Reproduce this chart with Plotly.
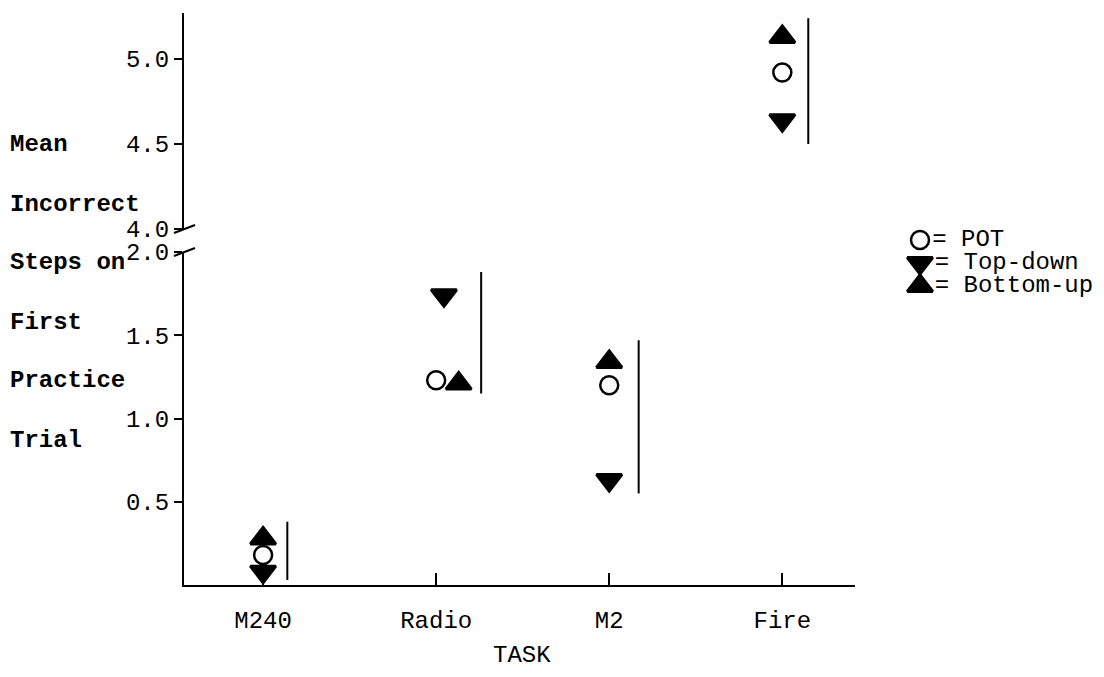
import plotly.graph_objects as go

# ---------------- data ----------------
tasks = ["M240", "Radio", "M2", "Fire"]
pot = [0.18, 1.23, 1.20, 4.92]
top_down = [0.08, 1.74, 0.63, 4.64]
bottom_up = [0.28, 1.21, 1.34, 5.13]
range_low = [0.03, 1.15, 0.55, 4.50]
range_high = [0.38, 1.88, 1.47, 5.24]
segment = ["lower", "lower", "lower", "upper"]

lower_ticks = [0.5, 1.0, 1.5, 2.0]
upper_ticks = [4.0, 4.5, 5.0]
series_names = ["POT", "Top-down", "Bottom-up"]
y_title_lines = ["Mean", "Incorrect", "Steps on", "First", "Practice", "Trial"]
x_title = "TASK"

# ---------------- style / layout constants ----------------
W, H = 1104, 677
OFF = 8                     # page body margin of the html page
AX_LEFT, AX_RIGHT = 184, 855  # page px of axis box
AX_BOTTOM, AX_TOP = 585, 13
ML = AX_LEFT - OFF
MT = AX_TOP - OFF
MB = H - (AX_BOTTOM - OFF)
PW = W - ML
PH = H - MT - MB
FONT = "Liberation Mono"
FS = 24

# horizontal jitter (category units) used in the original drawing
DX_POT = [0.0, 0.0, 0.0, 0.0]
DX_TD = [0.0, 0.045, 0.0, 0.0]
DX_BU = [0.0, 0.13, 0.0, 0.0]
DX_LINE = [0.14, 0.26, 0.17, 0.15]


def paper_x(px):
    return (px - AX_LEFT) / PW


def paper_y(py):
    return (AX_BOTTOM - py) / PH


LOWER_TOP_PX = 252
UPPER_BOT_PX = 229
lower_dom = [0, paper_y(LOWER_TOP_PX)]
upper_dom = [paper_y(UPPER_BOT_PX), 1]
upper_px_per_unit = 170.0
upper_range = [4.0, 4.0 + (UPPER_BOT_PX - AX_TOP) / upper_px_per_unit]

x_dom = [0, paper_x(AX_RIGHT)]
x_range = [-0.457, 3.42]

fig = go.Figure()

# vertical range lines
for seg, yax in (("lower", "y"), ("upper", "y2")):
    xs, ys = [], []
    for i, s in enumerate(segment):
        if s == seg:
            xs += [i + DX_LINE[i], i + DX_LINE[i], None]
            ys += [range_low[i], range_high[i], None]
    fig.add_trace(go.Scatter(x=xs, y=ys, mode="lines", yaxis=yax,
                             line=dict(color="black", width=2),
                             showlegend=False, hoverinfo="skip"))

marker_styles = {
    "Top-down": dict(symbol="triangle-down", size=22, color="black",
                     line=dict(color="black", width=3)),
    "Bottom-up": dict(symbol="triangle-up", size=22, color="black",
                      line=dict(color="black", width=3)),
    "POT": dict(symbol="circle", size=18, color="white",
                line=dict(color="black", width=2.5)),
}
series_vals = {"POT": pot, "Top-down": top_down, "Bottom-up": bottom_up}
series_dx = {"POT": DX_POT, "Top-down": DX_TD, "Bottom-up": DX_BU}

for name in ["Top-down", "Bottom-up", "POT"]:
    for seg, yax in (("lower", "y"), ("upper", "y2")):
        idx = [i for i, s in enumerate(segment) if s == seg]
        fig.add_trace(go.Scatter(
            x=[i + series_dx[name][i] for i in idx],
            y=[series_vals[name][i] for i in idx],
            mode="markers", yaxis=yax, name=name,
            marker=marker_styles[name], cliponaxis=False,
            showlegend=False))

# legend (drawn on its own hidden axes)
LEG_X0, LEG_ROW0, LEG_STEP, LEG_UNIT = 920, 240, 23, 20
for r, name in enumerate(series_names):
    fig.add_trace(go.Scatter(
        x=[0], y=[r], xaxis="x3", yaxis="y3", mode="markers+text",
        text=["= " + name], textposition="middle right",
        textfont=dict(family=FONT, size=FS, color="black"),
        marker=marker_styles[name], cliponaxis=False, showlegend=False,
        hoverinfo="skip"))

leg_left_px = LEG_X0 - LEG_UNIT
leg_x_dom = [paper_x(leg_left_px), 1]
leg_x_range = [-1, -1 + (AX_LEFT + PW - leg_left_px) / LEG_UNIT]
leg_y_dom = [paper_y(LEG_ROW0 + LEG_STEP * 2.5), paper_y(LEG_ROW0 - LEG_STEP * 0.5)]

axis_font = dict(family=FONT, size=FS, color="black")
fig.update_layout(
    width=W, height=H,
    margin=dict(l=ML, r=0, t=MT, b=MB, autoexpand=False),
    paper_bgcolor="white", plot_bgcolor="white",
    showlegend=False,
    xaxis=dict(domain=x_dom, range=x_range, tickvals=list(range(len(tasks))),
               ticktext=tasks, ticks="inside", ticklen=12, tickwidth=2,
               tickcolor="black", showline=True, linecolor="black", linewidth=2,
               showgrid=False, zeroline=False, tickfont=axis_font,
               ticklabelstandoff=12, anchor="y"),
    yaxis=dict(domain=lower_dom, range=[0, 2.0], tickvals=lower_ticks,
               tickformat=".1f", ticks="outside", ticklen=8, tickwidth=2,
               tickcolor="black", showline=True, linecolor="black", linewidth=2,
               showgrid=False, zeroline=False, tickfont=axis_font, anchor="x"),
    yaxis2=dict(domain=upper_dom, range=upper_range, tickvals=upper_ticks,
                tickformat=".1f", ticks="outside", ticklen=8, tickwidth=2,
                tickcolor="black", showline=True, linecolor="black", linewidth=2,
                showgrid=False, zeroline=False, tickfont=axis_font, anchor="x"),
    xaxis3=dict(domain=leg_x_dom, range=leg_x_range, visible=False, anchor="y3",
                fixedrange=True),
    yaxis3=dict(domain=leg_y_dom, range=[2.5, -0.5], visible=False, anchor="x3",
                fixedrange=True),
)

# y-axis title lines
Y_TITLE_PX = [145, 205, 262, 322, 380, 440]
for text, py in zip(y_title_lines, Y_TITLE_PX):
    fig.add_annotation(text="<b>" + text + "</b>", xref="paper", yref="paper",
                       x=paper_x(9), y=paper_y(py),
                       xanchor="left", yanchor="middle", showarrow=False,
                       borderpad=0, font=dict(family=FONT, size=FS, color="black"))

# x-axis title
fig.add_annotation(text=x_title, xref="paper", yref="paper",
                   x=paper_x(522), y=paper_y(655),
                   xanchor="center", yanchor="middle", showarrow=False,
                   font=dict(family=FONT, size=FS, color="black"))

# axis-break marks
for anchor_y in (lower_dom[1], upper_dom[0]):
    fig.add_shape(type="line", xref="paper", yref="paper",
                  xsizemode="pixel", ysizemode="pixel",
                  xanchor=0, yanchor=anchor_y,
                  x0=-10, x1=11, y0=-4, y1=4,
                  line=dict(color="black", width=2))

fig.write_html("out.html")
